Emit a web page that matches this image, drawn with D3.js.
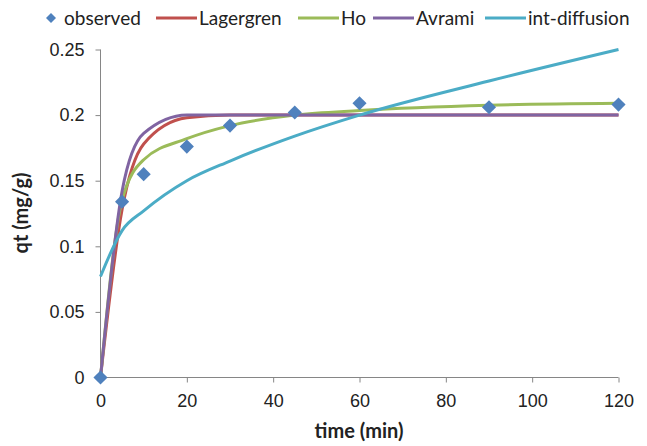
<!DOCTYPE html>
<html lang="en">
<head>
<meta charset="utf-8">
<title>Adsorption kinetics</title>
<style>
  body { margin: 0; background: #fff; }
  svg { display: block; }
  .tick text { font-family: "Liberation Sans", Arial, sans-serif; font-size: 18px; fill: #222; }
</style>
</head>
<body>
<div id="container"></div>
<script src="https://d3js.org/d3.v7.min.js"></script>
<script>
    // sample times (min)
    const times = [0, 5, 10, 20, 30, 45, 60, 90, 120]

    // values, qt (mg/g)
    const observed     = [0, 0.134, 0.155, 0.176, 0.192, 0.202, 0.209, 0.206, 0.208]
    const lagergren    = [0, 0.128, 0.178, 0.198, 0.200, 0.200, 0.200, 0.200, 0.200]
    const ho           = [0, 0.135, 0.166, 0.182, 0.192, 0.200, 0.2035, 0.2075, 0.209]
    const avrami       = [0, 0.142, 0.186, 0.200, 0.200, 0.200, 0.200, 0.200, 0.200]
    const intDiffusion = [0.077, 0.112, 0.127, 0.150, 0.165, 0.184, 0.200, 0.226, 0.250]

    const xTicks = [0, 20, 40, 60, 80, 100, 120]
    const yTicks = [0, 0.05, 0.1, 0.15, 0.2, 0.25]

    const seriesNames = ["Lagergren", "Ho", "Avrami", "int-diffusion"]
    const seriesValues = [lagergren, ho, avrami, intDiffusion]
    const seriesColors = ["#c0504d", "#9bbb59", "#8064a2", "#4bacc6"]
    const markerColor = "#4f81bd"

    const width = 647, height = 446
    const svg = d3.select("#container").append("svg")
        .attr("width", width)
        .attr("height", height)

    let x = d3.scaleLinear().domain([0, 120]).range([100.5, 618.5])
    let y = d3.scaleLinear().domain([0, 0.25]).range([377.5, 49.5])

    let xAxis = d3.axisBottom(x).tickValues(xTicks).tickSize(5).tickPadding(12)
    let yAxis = d3.axisLeft(y).tickValues(yTicks).tickSize(5).tickPadding(11)
        .tickFormat(d => String(d))

    let gx = svg.append("g").attr("transform", "translate(0,377.5)").call(xAxis)
    let gy = svg.append("g").attr("transform", "translate(100.5,0)").call(yAxis)
    svg.selectAll(".domain, .tick line").attr("stroke", "#868686")
    gx.selectAll(".domain").attr("d", "M100.5,0H618.5")
    gy.selectAll(".domain").attr("d", "M0,49.5V377.5")

    // fitted curves
    let line = d3.line()
        .x((d, i) => x(times[i]))
        .y(d => y(d))
        .curve(d3.curveMonotoneX)

    svg.append("g").selectAll("path")
        .data(seriesValues)
        .join("path")
        .attr("d", line)
        .attr("fill", "none")
        .attr("stroke", (d, i) => seriesColors[i])
        .attr("stroke-width", 3)
        .attr("stroke-linejoin", "round")

    // observed points
    let diamond = d3.symbol(d3.symbolSquare, 100)
    svg.append("g").selectAll("path")
        .data(observed)
        .join("path")
        .attr("d", diamond)
        .attr("transform", (d, i) => `translate(${x(times[i])},${y(d)}) rotate(45)`)
        .attr("fill", markerColor)

    // axis titles
    svg.append("text")
        .attr("x", 359).attr("y", 438)
        .attr("text-anchor", "middle")
        .style("font-family", "Lato, sans-serif")
        .style("font-weight", "bold")
        .style("font-size", "20px")
        .attr("fill", "#222")
        .text("time (min)")

    svg.append("text")
        .attr("transform", "translate(28,213) rotate(-90)")
        .attr("text-anchor", "middle")
        .style("font-family", "Lato, sans-serif")
        .style("font-weight", "bold")
        .style("font-size", "20px")
        .attr("fill", "#222")
        .text("qt (mg/g)")

    // legend
    let legend = svg.append("g").style("font-family", "Lato, sans-serif").style("font-size", "19px")
    legend.append("path")
        .attr("d", d3.symbol(d3.symbolSquare, 50))
        .attr("transform", "translate(51,18) rotate(45)")
        .attr("fill", markerColor)
    legend.append("text").attr("x", 64).attr("y", 25).attr("fill", "#222").text("observed")

    const legendX = [156, 298, 373, 485]
    seriesNames.forEach((name, i) => {
        legend.append("line")
            .attr("x1", legendX[i]).attr("x2", legendX[i] + 41)
            .attr("y1", 18).attr("y2", 18)
            .attr("stroke", seriesColors[i])
            .attr("stroke-width", 3)
        legend.append("text")
            .attr("x", legendX[i] + 43).attr("y", 25)
            .attr("fill", "#222")
            .text(name)
    })
</script>
</body>
</html>
